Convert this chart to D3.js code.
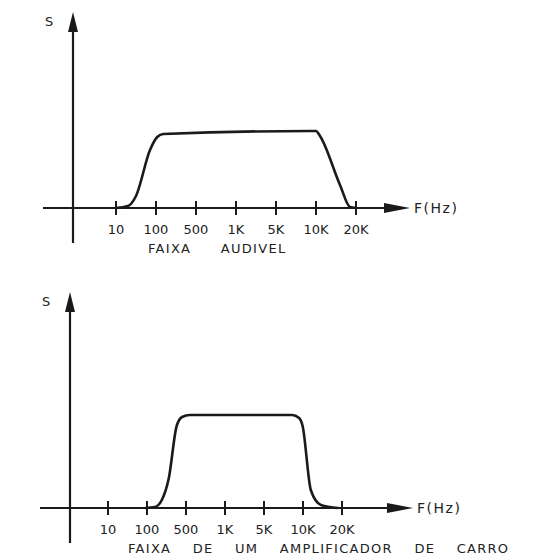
<!DOCTYPE html>
<html>
<head>
<meta charset="utf-8">
<script src="https://cdn.jsdelivr.net/npm/d3@7"></script>
<style>
  body { margin: 0; background: #fff; }
  text { font-family: "DejaVu Sans", sans-serif; fill: #222; }
</style>
</head>
<body>
<svg id="chart" width="555" height="560"></svg>
<script>
const freqLabels = ["10", "100", "500", "1K", "5K", "10K", "20K"]

// response curves, x in tick-index units, s in relative level (0..100)
const audioX = [0, 0.3, 0.5, 0.85, 1.03, 1.18, 4.85, 5, 5.1, 5.6, 5.85, 6]
const audioS = [0, 2, 12, 58, 71, 74, 77, 77, 72, 23, 1, 0]

const carX = [0.95, 1.2, 1.38, 1.56, 1.76, 1.9, 2.1, 4.72, 4.9, 4.99, 5.2, 5.46, 5.9]
const carS = [0, 1, 8, 30, 82, 91, 93, 93, 90, 82, 18, 3, 0]

const svg = d3.select("#chart")
const ink = "#1a1a1a"

function drawPanel(opts) {
  const x = d3.scaleLinear().domain([0, 6]).range([opts.x0, opts.x0 + opts.step * 6])
  const y = d3.scaleLinear().domain([0, 100]).range([opts.base, opts.base - 100])
  const g = svg.append("g")

  // vertical axis with arrow
  g.append("line").attr("x1", opts.yAxisX).attr("x2", opts.yAxisX)
    .attr("y1", opts.base + 35).attr("y2", opts.top + 14)
    .attr("stroke", ink).attr("stroke-width", 2.2)
  g.append("path")
    .attr("d", `M${opts.yAxisX},${opts.top} L${opts.yAxisX - 5},${opts.top + 20} L${opts.yAxisX + 5},${opts.top + 20}Z`)
    .attr("fill", ink)
  g.append("text").attr("x", opts.yAxisX - 28).attr("y", opts.top + 14)
    .attr("font-size", 13).text("S")

  // horizontal axis with arrow
  g.append("line").attr("x1", opts.yAxisX - 30).attr("x2", opts.arrowX - 10)
    .attr("y1", opts.base).attr("y2", opts.base)
    .attr("stroke", ink).attr("stroke-width", 2.2)
  g.append("path")
    .attr("d", `M${opts.arrowX},${opts.base} L${opts.arrowX - 26},${opts.base - 5} L${opts.arrowX - 26},${opts.base + 5}Z`)
    .attr("fill", ink)
  g.append("text").attr("x", opts.arrowX + 4).attr("y", opts.base + 5)
    .attr("font-size", 14).attr("letter-spacing", 1.5).text("F(Hz)")

  // ticks and labels
  freqLabels.forEach((lab, i) => {
    g.append("line").attr("x1", x(i)).attr("x2", x(i))
      .attr("y1", opts.base - 7).attr("y2", opts.base + 7)
      .attr("stroke", ink).attr("stroke-width", 2)
    g.append("text").attr("x", x(i)).attr("y", opts.base + 26)
      .attr("text-anchor", "middle").attr("font-size", 13).text(lab)
  })

  // response curve
  const pts = opts.xs.map((v, i) => [v, opts.ss[i]])
  g.append("path").datum(pts)
    .attr("d", d3.line().x(d => x(d[0])).y(d => y(d[1])).curve(d3.curveMonotoneX))
    .attr("fill", "none").attr("stroke", ink).attr("stroke-width", 2.6)

  g.append("text").attr("x", opts.capX).attr("y", opts.base + 45)
    .attr("font-size", 13).attr("letter-spacing", 1.3).attr("word-spacing", opts.wordSp)
    .text(opts.caption)
}

drawPanel({ x0: 116, step: 40, base: 208, top: 12, yAxisX: 73, arrowX: 410,
  xs: audioX, ss: audioS, caption: "FAIXA AUDIVEL", capX: 148, wordSp: 24 })

drawPanel({ x0: 108, step: 39, base: 508, top: 292, yAxisX: 70, arrowX: 413,
  xs: carX, ss: carS, caption: "FAIXA DE UM AMPLIFICADOR DE CARRO", capX: 128, wordSp: 16 })
</script>
</body>
</html>
